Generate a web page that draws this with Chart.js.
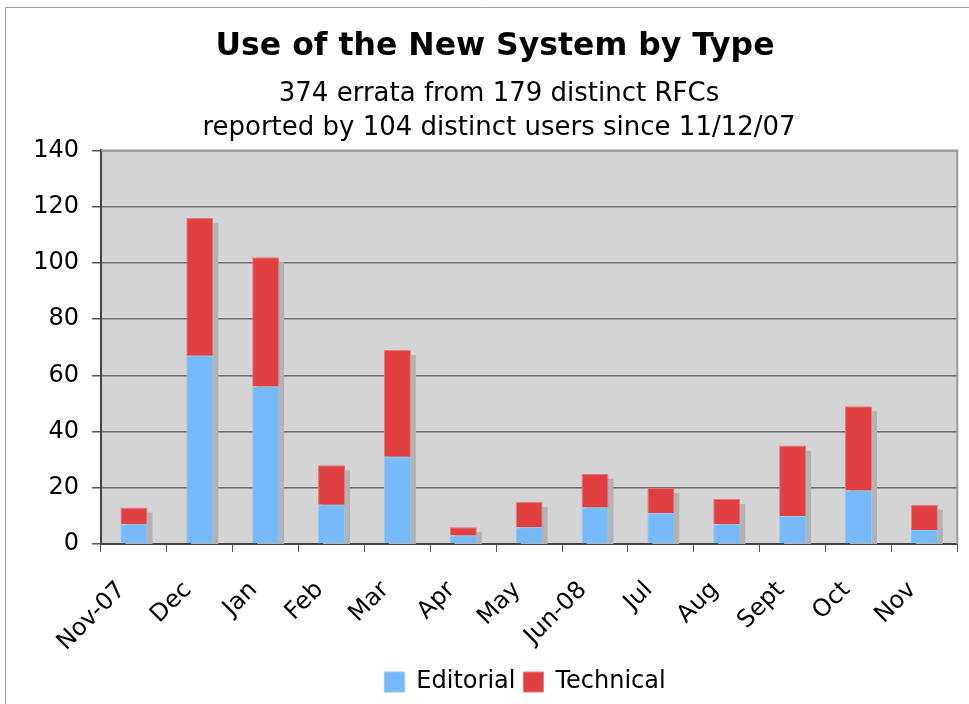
<!DOCTYPE html>
<html>
<head>
<meta charset="utf-8">
<script src="https://cdn.jsdelivr.net/npm/chart.js@4/dist/chart.umd.min.js"></script>
<style>
    html, body { margin: 0; padding: 0; background: #fff; }
</style>
</head>
<body>
<canvas id="errataChart" width="969" height="704"></canvas>
<script>
// Datos
const months = ['Nov-07', 'Dec', 'Jan', 'Feb', 'Mar', 'Apr', 'May', 'Jun-08', 'Jul', 'Aug', 'Sept', 'Oct', 'Nov'];
const editorial = [7, 67, 56, 14, 31, 3, 6, 13, 11, 7, 10, 19, 5];
const technical = [6, 49, 46, 14, 38, 3, 9, 12, 9, 9, 25, 30, 9];
const yTicks = [0, 20, 40, 60, 80, 100, 120, 140];

const FONT = '"DejaVu Sans", Verdana, sans-serif';

// Fondo gris del área y marco exterior
const plotBackground = {
    id: 'plotBackground',
    beforeDraw(chart) {
        const { ctx, chartArea: a } = chart;
        ctx.save();
        ctx.fillStyle = '#fff';
        ctx.fillRect(0, 0, chart.width, chart.height);
        ctx.strokeStyle = '#a0a0a0';
        ctx.lineWidth = 1;
        ctx.beginPath();
        ctx.moveTo(5.5, chart.height);
        ctx.lineTo(5.5, 7.5);
        ctx.lineTo(chart.width, 7.5);
        ctx.stroke();
        ctx.fillStyle = '#d4d4d4';
        ctx.fillRect(a.left, a.top, a.right - a.left, a.bottom - a.top);
        ctx.restore();
    },
    afterDraw(chart) {
        const { ctx, chartArea: a } = chart;
        ctx.save();
        ctx.strokeStyle = '#9a9a9a';
        ctx.lineWidth = 2;
        ctx.beginPath();
        ctx.moveTo(a.left, a.top);
        ctx.lineTo(a.right, a.top);
        ctx.lineTo(a.right, a.bottom);
        ctx.stroke();
        ctx.restore();
    }
};

// Centrar títulos y leyenda un poco más a la derecha, como en el original
const shiftBoxes = {
    id: 'shiftBoxes',
    afterLayout(chart) {
        const move = (box, dx) => {
            if (!box) return;
            box.left += dx;
            box.right += dx;
        };
        move(chart.titleBlock, 14);
        move(chart.legend, 44);
        chart.boxes.forEach(b => {
            if (b.options && b.options.text && b !== chart.titleBlock) move(b, 18);
        });
    }
};

// Sombra gris detrás de cada columna apilada
const barShadow = {
    id: 'barShadow',
    beforeDatasetsDraw(chart) {
        const { ctx } = chart;
        const top = chart.getDatasetMeta(1).data;
        const base = chart.scales.y.getPixelForValue(0);
        ctx.save();
        ctx.fillStyle = '#b3b3b3';
        top.forEach(bar => {
            const p = bar.getProps(['x', 'y', 'width'], true);
            ctx.fillRect(p.x - p.width / 2 + 5, p.y + 5, p.width, base - p.y - 5);
        });
        ctx.restore();
    }
};

new Chart(document.getElementById('errataChart'), {
    type: 'bar',
    data: {
        labels: months,
        datasets: [{
            label: 'Editorial',
            data: editorial,
            backgroundColor: '#76baf9',
            borderColor: '#8ec6f7',
            borderWidth: 1,
            borderSkipped: 'bottom'
        }, {
            label: 'Technical',
            data: technical,
            backgroundColor: '#e04042',
            borderColor: '#e87a7c',
            borderWidth: 1,
            borderSkipped: 'bottom'
        }]
    },
    options: {
        responsive: false,
        animation: false,
        devicePixelRatio: 1,
        layout: { padding: { left: 0, right: 7, top: 12, bottom: 0 } },
        datasets: {
            bar: { categoryPercentage: 1, barPercentage: 0.41 }
        },
        plugins: {
            title: {
                display: true,
                text: 'Use of the New System by Type',
                color: '#000',
                font: { family: FONT, size: 31.5, weight: 'bold' },
                padding: { top: 16, bottom: 12 }
            },
            subtitle: {
                display: true,
                text: ['374 errata from 179 distinct RFCs', 'reported by 104 distinct users since 11/12/07'],
                color: '#000',
                font: { family: FONT, size: 26, lineHeight: 1.3 },
                padding: { top: 0, bottom: 5 }
            },
            legend: {
                position: 'bottom',
                labels: {
                    color: '#000',
                    font: { family: FONT, size: 24 },
                    boxWidth: 20,
                    boxHeight: 20,
                    padding: 8
                }
            },
            tooltip: { enabled: false }
        },
        scales: {
            x: {
                stacked: true,
                offset: true,
                afterFit(scale) {
                    scale.height = 118;
                },
                grid: {
                    offset: true,
                    drawOnChartArea: false,
                    drawTicks: true,
                    tickLength: 8,
                    tickColor: '#555'
                },
                border: { color: '#444', width: 2 },
                ticks: {
                    color: '#000',
                    font: { family: FONT, size: 24 },
                    maxRotation: 45,
                    minRotation: 45,
                    autoSkip: false,
                    padding: 24,
                    labelOffset: -12
                }
            },
            y: {
                stacked: true,
                min: 0,
                max: 140,
                afterBuildTicks(scale) {
                    scale.ticks = yTicks.map(v => ({ value: v }));
                },
                afterFit(scale) {
                    scale.width = 101;
                },
                grid: {
                    color: '#6e6e6e',
                    lineWidth: 1.5,
                    tickLength: 9,
                    tickColor: '#555'
                },
                border: { color: '#444', width: 2 },
                ticks: {
                    color: '#000',
                    font: { family: FONT, size: 24 },
                    padding: 13
                }
            }
        }
    },
    plugins: [plotBackground, shiftBoxes, barShadow]
});
</script>
</body>
</html>
